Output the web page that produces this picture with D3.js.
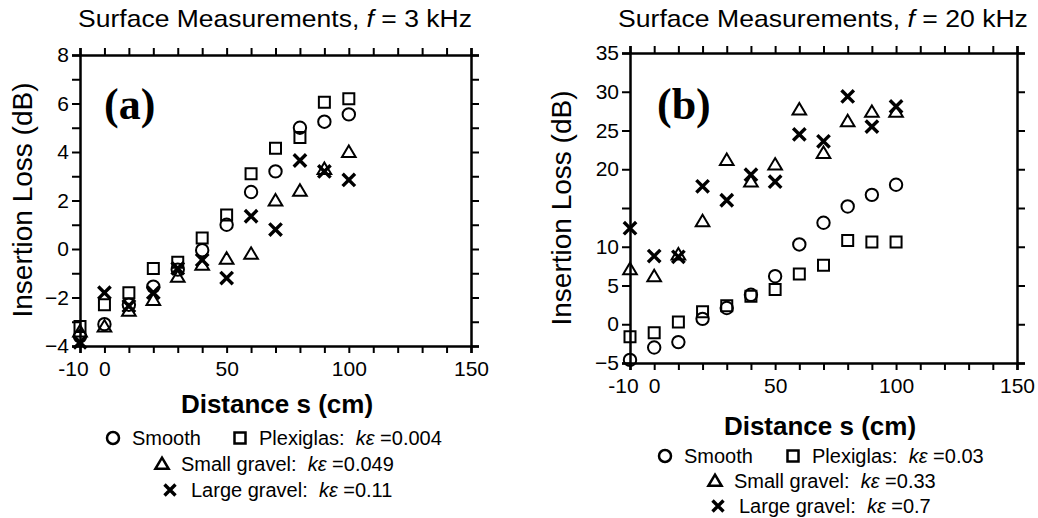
<!DOCTYPE html>
<html>
<head>
<meta charset="utf-8">
<script src="https://cdn.jsdelivr.net/npm/d3@7"></script>
<style>
  body { margin: 0; background: #fff; }
  text { font-family: "Liberation Sans", Arial, sans-serif; fill: #000; }
</style>
</head>
<body>
<div id="chart"></div>
<script>
// Data
const distances = [-10, 0, 10, 20, 30, 40, 50, 60, 70, 80, 90, 100];

// (a) f = 3 kHz
const smoothA = [-3.6, -3.1, -2.3, -1.55, -0.85, -0.05, 1.0, 2.35, 3.2, 5.0, 5.25, 5.55];
const plexiA  = [-3.2, -2.3, -1.8, -0.8, -0.55, 0.45, 1.4, 3.1, 4.15, 4.6, 6.05, 6.2];
const smallA  = [-3.4, -3.2, -2.55, -2.1, -1.15, -0.65, -0.4, -0.2, 2.0, 2.4, 3.3, 4.0];
const largeA  = [-3.85, -1.8, -2.35, -1.8, -0.8, -0.45, -1.2, 1.35, 0.8, 3.65, 3.2, 2.85];

// (b) f = 20 kHz
const smoothB = [-4.6, -3.0, -2.3, 0.7, 2.1, 3.8, 6.2, 10.3, 13.1, 15.2, 16.7, 18.0];
const plexiB  = [-1.6, -1.1, 0.3, 1.6, 2.4, 3.6, 4.5, 6.5, 7.6, 10.8, 10.6, 10.6];
const smallB  = [7.1, 6.2, 9.0, 13.3, 21.2, 18.4, 20.6, 27.7, 22.1, 26.2, 27.4, 27.4];
const largeB  = [12.4, 8.8, 8.7, 17.8, 16.0, 19.3, 18.4, 24.5, 23.6, 29.4, 25.5, 28.1];

const xTickLabels = [-10, 0, 50, 100, 150];
const yLabelsA = [-4, -2, 0, 2, 4, 6, 8];
const yLabelsB = [-5, 0, 5, 10, 20, 25, 30, 35];

const width = 1038;
const height = 518;

const svg = d3.select("#chart")
    .append("svg")
    .attr("width", width)
    .attr("height", height);

// marker path generators, centred on 0,0
const markerPath = {
    circle: (r) => d3.symbol().type(d3.symbolCircle).size(Math.PI * r * r)(),
    square: (r) => `M${-r},${-r}H${r}V${r}H${-r}Z`,
    triangle: (r) => `M0,${-r * 1.05}L${r * 1.1},${r * 0.8}L${-r * 1.1},${r * 0.8}Z`,
    cross: (r) => `M${-r},${-r}L${r},${r}M${-r},${r}L${r},${-r}`,
};

function drawMarker(g, type, x, y, r, sw = 2) {
    g.append("path")
        .attr("transform", `translate(${x},${y})`)
        .attr("d", markerPath[type](r))
        .attr("fill", "none")
        .attr("stroke", "#000")
        .attr("stroke-width", type === "cross" ? 3.4 : sw);
}

// stretch a centred text horizontally so it spans the wanted width
function fitWidth(t, cx, y, w) {
    const natural = t.node().getComputedTextLength();
    t.attr("x", 0).attr("y", 0)
        .attr("text-anchor", "middle")
        .attr("transform", `translate(${cx},${y}) scale(${w / natural},1)`);
}

function drawPanel(cfg) {
    const g = svg.append("g");

    const x = d3.scaleLinear().domain([-10, 150]).range([cfg.left, cfg.right]);
    const y = d3.scaleLinear().domain(cfg.yDomain).range([cfg.bottom, cfg.top]);

    const xTicks = d3.range(-10, 151, 10);
    const yTicks = d3.range(cfg.yDomain[0], cfg.yDomain[1] + 0.001, cfg.yMinor);

    // axes
    const styleAxis = (sel) => {
        sel.select(".domain").attr("stroke", "#000").attr("stroke-width", 2.5);
        sel.selectAll(".tick line").attr("stroke", "#000").attr("stroke-width", 2);
        sel.selectAll(".tick text")
            .style("font-family", "'Liberation Sans', Arial, sans-serif")
            .style("font-size", "21px")
            .attr("fill", "#000");
    };

    g.append("g")
        .attr("transform", `translate(0,${cfg.bottom})`)
        .call(d3.axisBottom(x).tickValues(xTicks).tickSizeOuter(0).tickSize(7).tickPadding(5)
            .tickFormat((d) => xTickLabels.includes(d) ? d : ""))
        .call(styleAxis)
        .call((s) => s.selectAll(".tick text")
            .attr("dy", "0.88em")
            .attr("x", (d) => d === -10 ? -7 : 0)); // -10 sits a little left of its tick

    g.append("g")
        .attr("transform", `translate(0,${cfg.top})`)
        .call(d3.axisTop(x).tickValues(xTicks).tickSizeOuter(0).tickSize(7).tickFormat(""))
        .call(styleAxis);

    g.append("g")
        .attr("transform", `translate(${cfg.left},0)`)
        .call(d3.axisLeft(y).tickValues(yTicks).tickSizeOuter(0).tickSize(8).tickPadding(3)
            .tickFormat((d) => cfg.yLabels.includes(Math.round(d)) ? d3.format("d")(d) : ""))
        .call(styleAxis);

    g.append("g")
        .attr("transform", `translate(${cfg.right},0)`)
        .call(d3.axisRight(y).tickValues(yTicks).tickSizeOuter(0).tickSize(8).tickFormat(""))
        .call(styleAxis);

    // title
    const title = g.append("text").style("font-size", "24px");
    title.append("tspan").text("Surface Measurements, ");
    title.append("tspan").style("font-style", "italic").text("f");
    title.append("tspan").text(` = ${cfg.freq}`);
    fitWidth(title, cfg.titleX, 27, cfg.titleW);

    // panel letter
    g.append("text")
        .attr("x", cfg.letterX)
        .attr("y", 119)
        .style("font-family", "'Liberation Serif', 'Times New Roman', serif")
        .style("font-weight", "bold")
        .style("font-size", "44px")
        .text(cfg.letter);

    // y label
    g.append("text")
        .attr("transform", `translate(${cfg.yLabelX},${cfg.yLabelY}) rotate(-90)`)
        .attr("text-anchor", "middle")
        .style("font-size", "28px")
        .text("Insertion Loss (dB)");

    // x label
    g.append("text")
        .attr("x", cfg.xLabelX)
        .attr("y", cfg.xLabelY)
        .attr("text-anchor", "middle")
        .style("font-size", "26px")
        .style("font-weight", "bold")
        .text("Distance s (cm)");

    // points
    const series = [
        { type: "circle", values: cfg.smooth },
        { type: "square", values: cfg.plexi },
        { type: "triangle", values: cfg.small },
        { type: "cross", values: cfg.large },
    ];
    series.forEach((s) => {
        s.values.forEach((v, i) => drawMarker(g, s.type, x(distances[i]), y(v), s.type === "square" ? 5.5 : 6.2));
    });

    // legend
    const lg = cfg.legend;
    const legendText = (tx, ty, label, ke) => {
        const t = g.append("text").attr("x", tx).attr("y", ty).style("font-size", "20px");
        t.append("tspan").text(label);
        if (ke !== undefined) {
            t.append("tspan").text("\u00a0 ");
            t.append("tspan").style("font-style", "italic").text("kε");
            t.append("tspan").text(` =${ke}`);
        }
    };
    drawMarker(g, "circle", lg.circleX, lg.y1 - 7, 6, 2.5);
    legendText(lg.circleX + 19, lg.y1, "Smooth");
    drawMarker(g, "square", lg.squareX, lg.y1 - 7, 5.5, 2.5);
    legendText(lg.squareX + 19, lg.y1, "Plexiglas:", cfg.ke[0]);
    drawMarker(g, "triangle", lg.triX, lg.y2 - 7, 6, 2.5);
    legendText(lg.triX + 19, lg.y2, "Small gravel:", cfg.ke[1]);
    drawMarker(g, "cross", lg.crossX, lg.y3 - 7, 5.5);
    legendText(lg.crossX + 21, lg.y3, "Large gravel:", cfg.ke[2]);
}

drawPanel({
    left: 80, right: 471, top: 55, bottom: 346,
    yDomain: [-4, 8], yMinor: 1, yLabels: yLabelsA,
    titleX: 275, titleW: 394, freq: "3 kHz", letter: "(a)", letterX: 104,
    yLabelX: 32, yLabelY: 200, xLabelX: 277, xLabelY: 413,
    smooth: smoothA, plexi: plexiA, small: smallA, large: largeA,
    ke: ["0.004", "0.049", "0.11"],
    legend: { y1: 445, y2: 471, y3: 497, circleX: 113, squareX: 240, triX: 162, crossX: 170 },
});

drawPanel({
    left: 630, right: 1017, top: 53, bottom: 363,
    yDomain: [-5, 35], yMinor: 5, yLabels: yLabelsB,
    titleX: 823, titleW: 410, freq: "20 kHz", letter: "(b)", letterX: 657,
    yLabelX: 571, yLabelY: 208, xLabelX: 820, xLabelY: 435,
    smooth: smoothB, plexi: plexiB, small: smallB, large: largeB,
    ke: ["0.03", "0.33", "0.7"],
    legend: { y1: 463, y2: 488, y3: 513, circleX: 665, squareX: 793, triX: 715, crossX: 718 },
});
</script>
</body>
</html>
